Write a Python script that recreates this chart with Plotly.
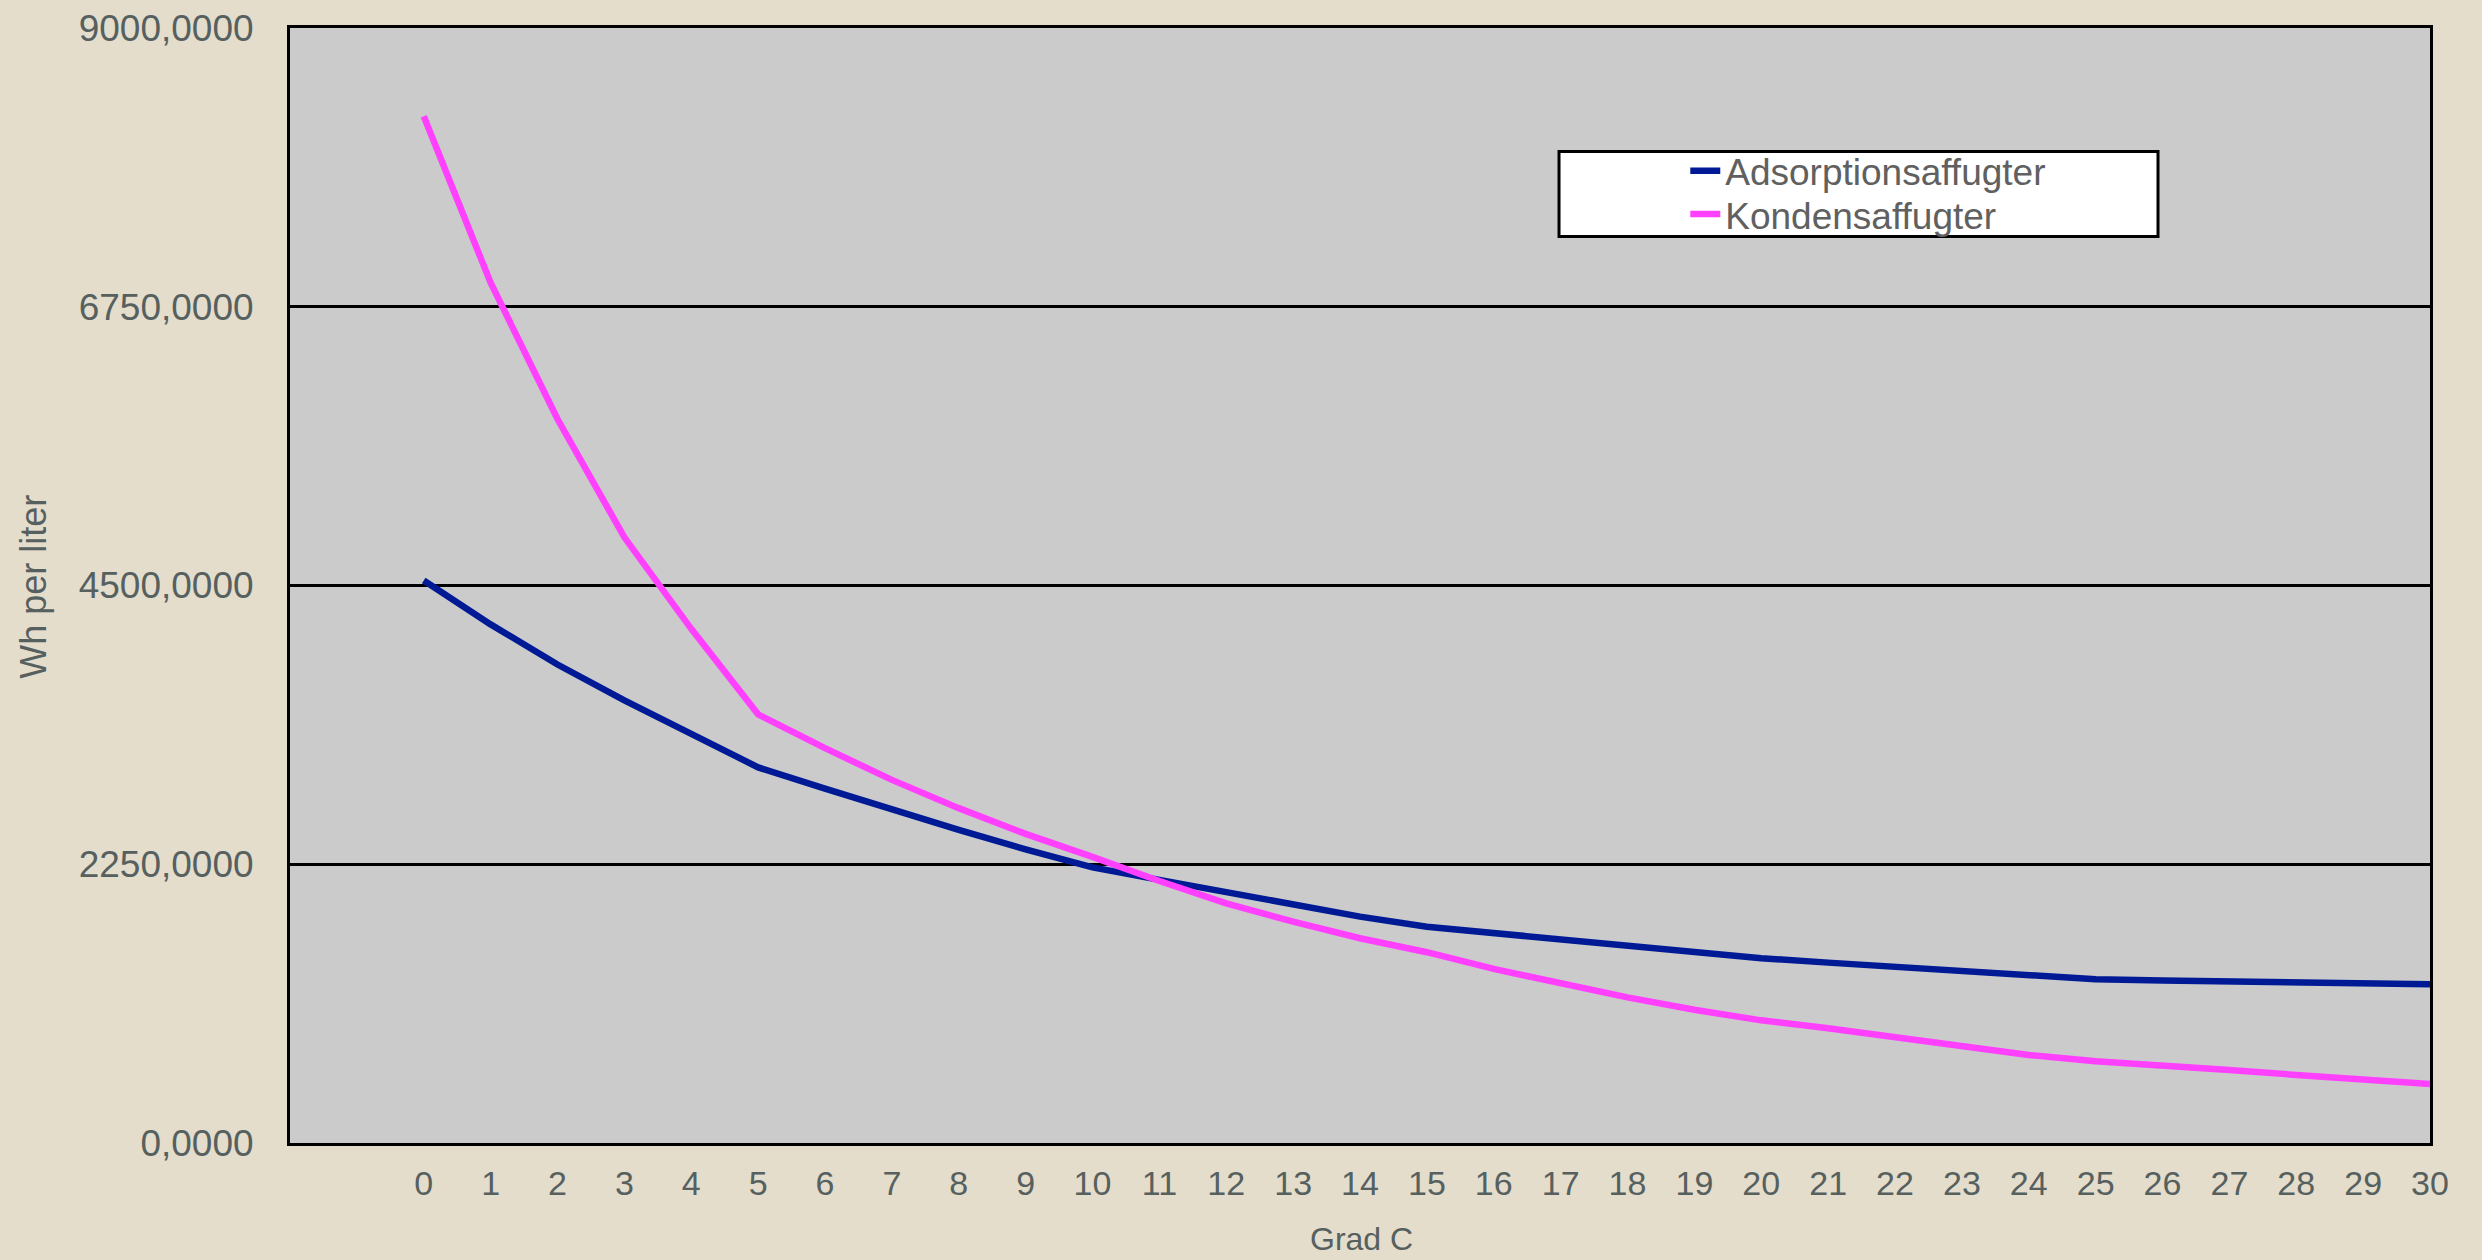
import plotly.graph_objects as go

# Grad C
temps = list(range(0, 31))

# Wh per liter
adsorption = [4540, 4186, 3862, 3573, 3303, 3032, 2860, 2690, 2527, 2370,
              2225, 2124, 2021, 1922, 1827, 1745, 1693, 1645, 1593, 1545,
              1491, 1456, 1424, 1391, 1357, 1322, 1311, 1303, 1295, 1290,
              1281]
kondens = [8288, 6944, 5844, 4889, 4150, 3460, 3187, 2931, 2703, 2495,
           2310, 2115, 1935, 1787, 1653, 1540, 1405, 1285, 1175, 1075,
           990, 926, 854, 778, 711, 660, 630, 590, 549, 514,
           476]

y_ticks = [0, 2250, 4500, 6750, 9000]
y_ticktext = ['0,0000', '2250,0000', '4500,0000', '6750,0000', '9000,0000']

FONT = 'Liberation Sans, Arial, Helvetica, sans-serif'
LABEL = '#56605f'

fig = go.Figure()
fig.add_trace(go.Scatter(x=temps, y=adsorption, name='Adsorptionsaffugter',
                         mode='lines', line=dict(color='#001a96', width=6.5),
                         legend='legend'))
fig.add_trace(go.Scatter(x=temps, y=kondens, name='Kondensaffugter',
                         mode='lines', line=dict(color='#ff40ff', width=6.5),
                         legend='legend2'))

# one legend per row so the rows sit as tight as in the original
leg = dict(x=0.652, xanchor='left', yanchor='middle',
           bgcolor='rgba(0,0,0,0)', borderwidth=0,
           font=dict(size=37, color='#606060'))

fig.update_layout(
    width=2482, height=1260,
    margin=dict(l=290, r=52, t=28, b=117, autoexpand=False),
    paper_bgcolor='#e4ddcc',
    plot_bgcolor='#cbcbcb',
    font=dict(family=FONT, color=LABEL, size=34),
    showlegend=True,
    legend=dict(leg, y=0.8715),
    legend2=dict(leg, y=0.8327),
    xaxis=dict(range=[-2, 30], tickmode='array', tickvals=temps,
               showgrid=False, zeroline=False, ticks='',
               showline=True, linecolor='black', linewidth=3, mirror=True,
               tickfont=dict(size=34), ticklabelstandoff=8),
    yaxis=dict(range=[0, 9000], tickmode='array', tickvals=y_ticks,
               ticktext=y_ticktext, showgrid=True, gridcolor='black',
               gridwidth=3, zeroline=False, ticks='',
               showline=True, linecolor='black', linewidth=3, mirror=True,
               tickfont=dict(size=37), ticklabelstandoff=26),
    shapes=[
        # legend frame
        dict(type='rect', xref='paper', yref='paper',
             x0=0.593, x1=0.8729, y0=0.8129, y1=0.8892,
             fillcolor='white', line=dict(color='black', width=3)),
    ],
    annotations=[
        dict(text='Grad C', xref='paper', yref='paper', x=0.5005, y=-0.0865,
             xanchor='center', yanchor='middle', showarrow=False,
             font=dict(size=32)),
        dict(text='Wh per liter', xref='paper', yref='paper', x=-0.12,
             y=0.499, xanchor='center', yanchor='middle', showarrow=False,
             textangle=-90, font=dict(size=36)),
    ],
)

fig.write_html('out.html', config={'displayModeBar': False},
               post_script="document.body.style.margin='0';")
